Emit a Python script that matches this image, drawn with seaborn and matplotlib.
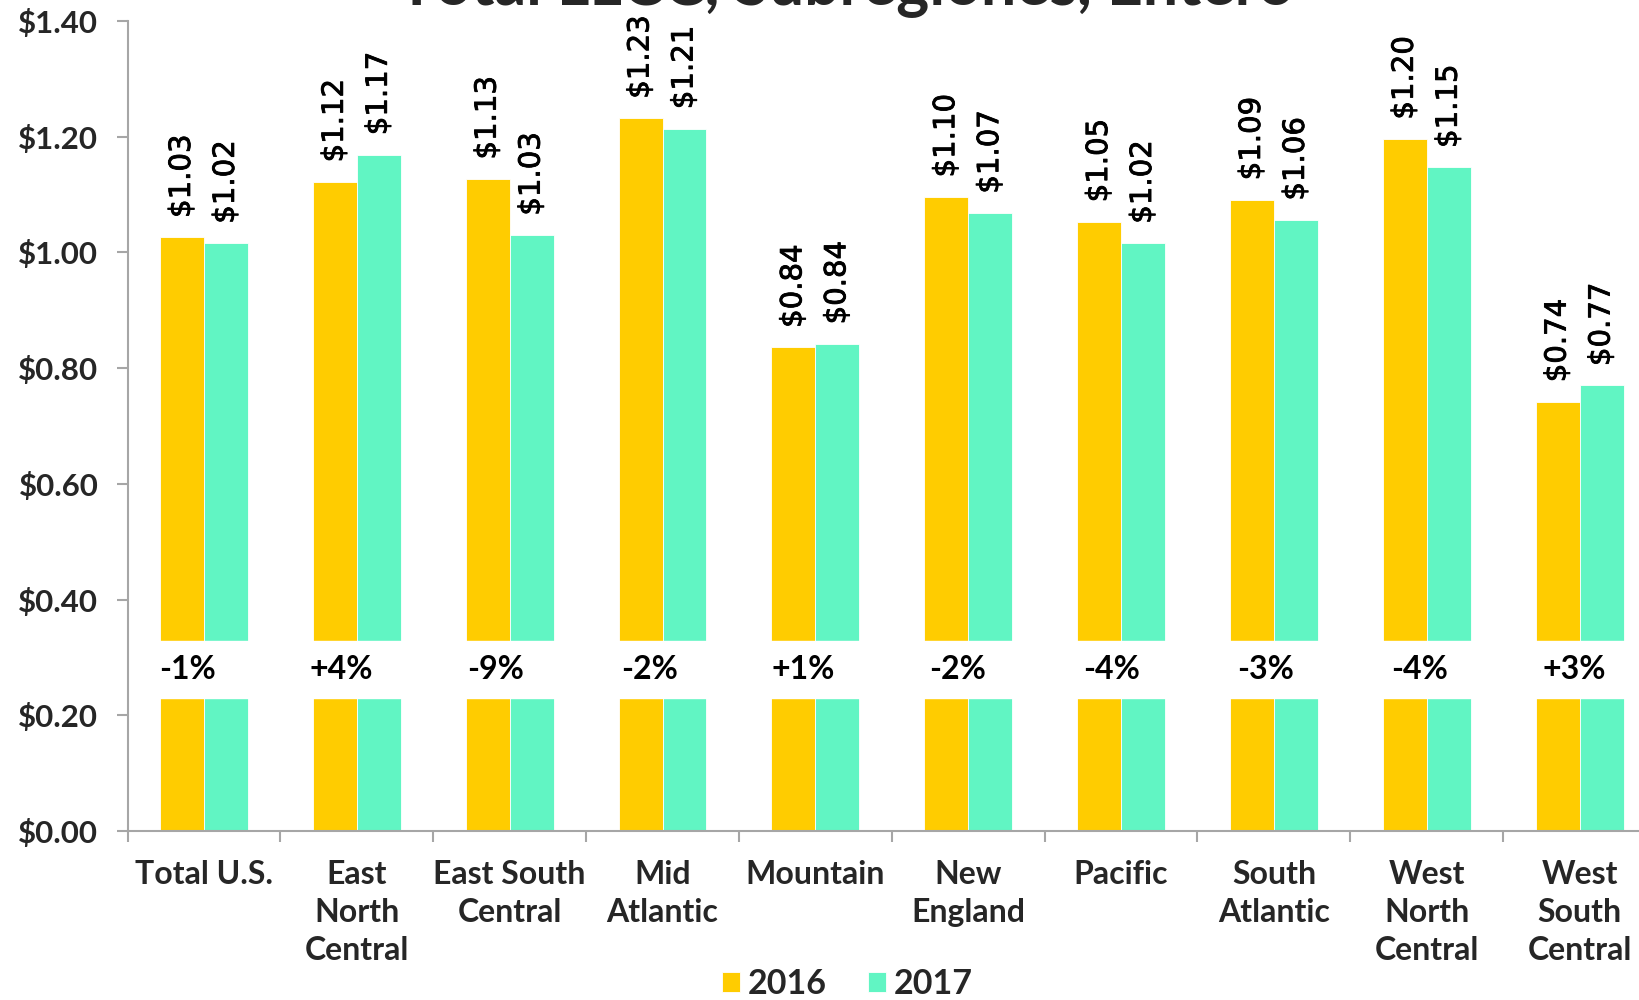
import pandas as pd
import seaborn as sns
import matplotlib.pyplot as plt
import matplotlib.patheffects as pe
from matplotlib.ticker import FuncFormatter, FixedLocator

# -----------------------------
# Data
# -----------------------------
regions = ["Total U.S.", "East\nNorth\nCentral", "East South\nCentral", "Mid\nAtlantic",
           "Mountain", "New\nEngland", "Pacific", "South\nAtlantic",
           "West\nNorth\nCentral", "West\nSouth\nCentral"]
years = ["2016", "2017"]
values_2016 = [1.026, 1.122, 1.127, 1.232, 0.836, 1.096, 1.053, 1.091, 1.196, 0.742]
values_2017 = [1.016, 1.169, 1.030, 1.214, 0.842, 1.068, 1.016, 1.056, 1.147, 0.770]
pct_change = ["-1%", "+4%", "-9%", "-2%", "+1%", "-2%", "-4%", "-3%", "-4%", "+3%"]
title = "Total LLCC, Subregiones, Entero"

colors = {"2016": "#FFCC00", "2017": "#61F5C3"}

df = pd.DataFrame({
    "region": regions * 2,
    "year": ["2016"] * len(regions) + ["2017"] * len(regions),
    "value": values_2016 + values_2017,
})

# -----------------------------
# Plot
# -----------------------------
sns.set_style("white")
plt.rcParams["font.family"] = ["Lato", "DejaVu Sans"]

fig = plt.figure(figsize=(16.39, 10), dpi=100)
ax = fig.add_axes([0.0778, 0.169, 0.9326, 0.81])

sns.barplot(data=df, x="region", y="value", hue="year", palette=colors,
            width=0.575, saturation=1, edgecolor="white", linewidth=0.6, ax=ax)

ax.set_ylim(0, 1.4)
ax.set_xlim(-0.5, len(regions) - 0.5)

# white break band across the bars
ax.axhspan(0.230, 0.328, color="white", zorder=2)

# value labels above bars
for cont in ax.containers:
    for bar in cont:
        h = bar.get_height()
        ax.annotate(f"${h:.2f}", (bar.get_x() + bar.get_width() / 2, h),
                    xytext=(0, 14), textcoords="offset points",
                    ha="center", va="bottom", rotation=90,
                    fontsize=21, family="DejaVu Sans", color="black",
                    path_effects=[pe.withStroke(linewidth=0.6, foreground="black")])

# percent change inside the break (text row sits slightly left of the bars)
for i, p in enumerate(pct_change):
    ax.text(i * 1.008 - 0.11, 0.279, p, ha="center", va="center", fontsize=23,
            fontweight="bold", color="black", zorder=3)

# axes styling
for s in ["top", "right"]:
    ax.spines[s].set_visible(False)
for s in ["left", "bottom"]:
    ax.spines[s].set_color("#A6A6A6")
    ax.spines[s].set_linewidth(1.5)
    ax.spines[s].set_zorder(4)

ax.yaxis.set_major_formatter(FuncFormatter(lambda v, _: f"${v:.2f}"))
ax.set_yticks([0, 0.2, 0.4, 0.6, 0.8, 1.0, 1.2, 1.4])
ax.tick_params(axis="y", length=8, width=1.5, color="#A6A6A6", pad=13,
               labelsize=22.5, left=True)
ax.tick_params(axis="x", which="major", length=0, pad=21, labelsize=23)
ax.xaxis.set_minor_locator(FixedLocator([i - 0.5 for i in range(len(regions) + 1)]))
ax.tick_params(axis="x", which="minor", length=8, width=1.5, color="#A6A6A6",
               direction="out", bottom=True)
for lab in ax.get_yticklabels():
    lab.set_fontweight("bold")
for lab in ax.get_xticklabels():
    lab.set_fontweight("bold")
    lab.set_linespacing(1.37)

ax.set_xlabel("")
ax.set_ylabel("")

# legend at the bottom
handles, labels = ax.get_legend_handles_labels()
ax.get_legend().remove()
fig.legend(handles, labels, loc="center", bbox_to_anchor=(0.517, 0.016), ncol=2,
           frameon=False, prop={"size": 24.5, "weight": "bold"},
           handlelength=0.55, handleheight=0.55, handletextpad=0.22,
           columnspacing=1.2)

# title, partly cut off at the top like the original
fig.text(0.516, 0.996, title, ha="center", va="baseline", fontsize=45,
         fontweight="bold")

fig.savefig("out.png", dpi=100)
